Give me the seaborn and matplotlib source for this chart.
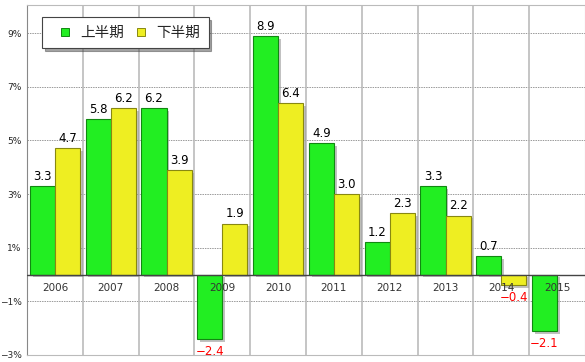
import matplotlib
matplotlib.use('Agg')
import matplotlib.pyplot as plt
import matplotlib.patheffects as pe
import seaborn as sns
import pandas as pd
import numpy as np
from matplotlib.lines import Line2D

# dados
anos = ['2006', '2007', '2008', '2009', '2010', '2011', '2012', '2013', '2014', '2015']
primeiro = [3.3, 5.8, 6.2, -2.4, 8.9, 4.9, 1.2, 3.3, 0.7, -2.1]
segundo = [4.7, 6.2, 3.9, 1.9, 6.4, 3.0, 2.3, 2.2, -0.4, np.nan]
series = ['上半期', '下半期']
cores = ['#22ee22', '#eeee22']
bordas = ['#118811', '#888811']
yticks = [9, 7, 5, 3, 1, -1, -3]

df = pd.DataFrame({
    'ano': anos * 2,
    'valor': primeiro + segundo,
    'serie': [series[0]] * len(anos) + [series[1]] * len(anos),
})

sns.set_style('white')
plt.rcParams['font.family'] = ['Noto Sans CJK JP', 'DejaVu Sans']

fig = plt.figure(figsize=(5.85, 3.62), dpi=100)
ax = fig.add_axes([27 / 585, 7 / 362, 558 / 585, 350 / 362])

sns.barplot(data=df, x='ano', y='valor', hue='serie', palette=cores,
            width=0.9, ax=ax, legend=False, saturation=1)

# borda e sombra das barras
for k, cont in enumerate(ax.containers):
    for bar in cont:
        if np.isnan(bar.get_height()):
            continue
        bar.set_edgecolor(bordas[k])
        bar.set_linewidth(0.8)
        bar.set_path_effects([pe.SimplePatchShadow(offset=(2, -2), shadow_rgbFace='#999999', alpha=0.6),
                              pe.Normal()])

# rótulos de valor
for cont in ax.containers:
    for bar in cont:
        h = bar.get_height()
        if np.isnan(h):
            continue
        xc = bar.get_x() + bar.get_width() / 2
        if h >= 0:
            ax.text(xc, h + 0.12, f'{h:.1f}', ha='center', va='bottom', fontsize=8.5,
                    color='black', family='DejaVu Sans')
        else:
            ax.text(xc, h - 0.22, f'\u2212{abs(h):.1f}', ha='center', va='top', fontsize=8.5,
                    color='red', family='DejaVu Sans')

ax.set_ylim(-3, 10.05)
ax.set_xlim(-0.5, len(anos) - 0.5)

# grade
for y in yticks[:-1]:
    ax.axhline(y, color='#999999', lw=0.7, ls=(0, (1.5, 1)), zorder=0)
for x in np.arange(0.5, len(anos) - 0.5, 1):
    ax.axvline(x, color='#bbbbbb', lw=1.2, zorder=0)
ax.axhline(0, color='#444444', lw=1.0, zorder=3)

# anos sobre a linha zero
for i, a in enumerate(anos):
    ax.text(i, -0.3, a, ha='center', va='top', fontsize=7.5, color='#333333',
            family='DejaVu Sans', zorder=4)

ax.set_xticks([])
ax.set_yticks(yticks)
ax.set_yticklabels([f'{t}%' if t >= 0 else f'\u2212{abs(t)}%' for t in yticks],
                   fontsize=6.5, family='DejaVu Sans')
ax.tick_params(axis='y', length=0, pad=4)
ax.set_xlabel('')
ax.set_ylabel('')

for s in ['top', 'right']:
    ax.spines[s].set_color('#bbbbbb')
ax.spines['left'].set_color('#888888')
ax.spines['bottom'].set_color('#bbbbbb')

# legenda
handles = [Line2D([], [], ls='none', marker='s', markersize=6, markerfacecolor=cores[i],
                  markeredgecolor=bordas[i], markeredgewidth=0.7, label=series[i]) for i in range(2)]
leg = ax.legend(handles=handles, loc='upper left', bbox_to_anchor=(0.027, 0.966), ncol=2,
                fontsize=10.5, frameon=True, fancybox=False, shadow=True, borderaxespad=0,
                handlelength=2.0, handletextpad=0.0, columnspacing=0.2,
                borderpad=0.6, edgecolor='#444444')
leg.get_frame().set_linewidth(0.8)

fig.savefig('out.png', dpi=100)
